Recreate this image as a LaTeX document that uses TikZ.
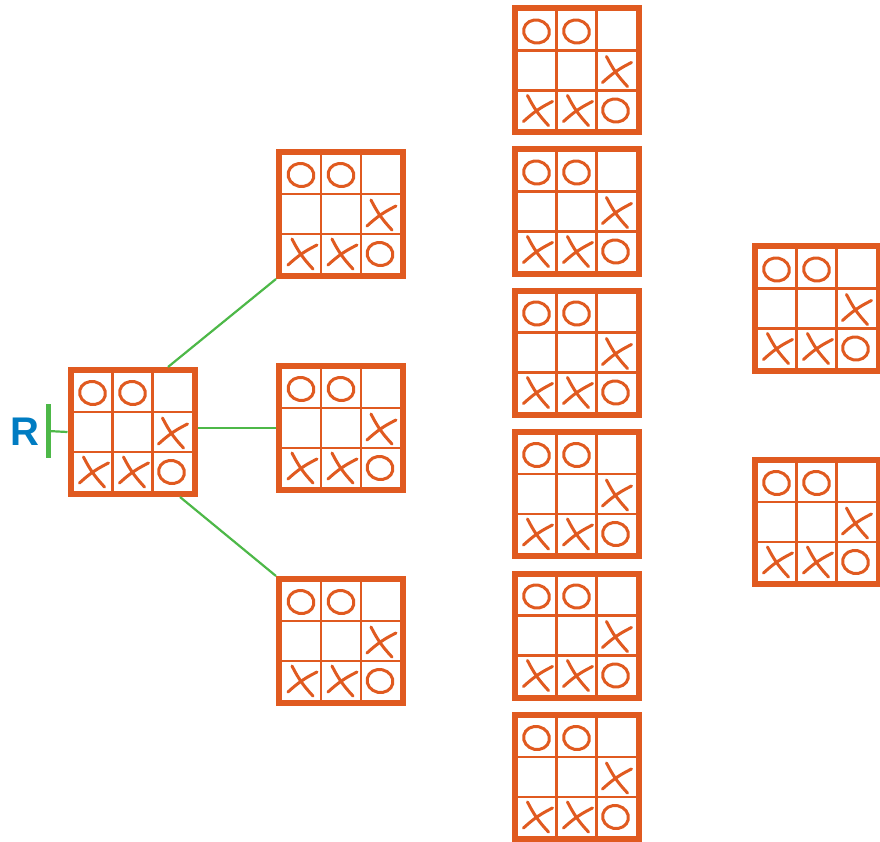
\documentclass[tikz,border=0pt]{standalone}
\usepackage{fontspec}
\setsansfont{Liberation Sans}
\definecolor{tor}{RGB}{224,90,32}
\definecolor{tgreen}{RGB}{77,184,72}
\definecolor{tblue}{RGB}{0,124,194}
\tikzset{
  board/.style={draw=tor, line width=6pt, minimum size=124pt, inner sep=0pt, rectangle},
  gridln/.style={draw=tor, line width=2.8pt},
  markln/.style={draw=tor, line width=3pt, line cap=round},
  treeedge/.style={draw=tgreen, line width=2.2pt},
}
\newcommand\tttO[2]{%
  \draw[markln, rotate around={-12:(#1,#2)}] (#1,#2) ellipse [x radius=13, y radius=11.5];}
\newcommand\tttX[2]{%
  \draw[markln] (#1-9,#2-14) to[bend right=8] (#1+12,#2+16);
  \draw[markln] (#1-13,#2+12) to[bend left=8] (#1+16,#2-8);}
\newcommand\tttboard[3]{%
  \node[board] (#1) at (#2,#3) {};
  \begin{scope}[shift={(#1.center)}]
    \draw[gridln] (-20,-59) -- (-20,59);
    \draw[gridln] (20,-59) -- (20,59);
    \draw[gridln] (-59,-20) -- (59,-20);
    \draw[gridln] (-59,20) -- (59,20);
    \tttO{-40}{-39}
    \tttO{0}{-39}
    \tttO{39}{40}
    \tttX{39}{0}
    \tttX{-40}{39}
    \tttX{0}{39}
  \end{scope}}
\begin{document}
\begin{tikzpicture}[x=1pt,y=-1pt]
\useasboundingbox (0,0) rectangle (880,842);
\tttboard{root}{132.5}{432}
\tttboard{a1}{341}{214}
\tttboard{a2}{341}{428}
\tttboard{a3}{341}{641}
\tttboard{b1}{576.5}{70.5}
\tttboard{b2}{576.5}{211.5}
\tttboard{b3}{576.5}{352.5}
\tttboard{b4}{576.5}{494}
\tttboard{b5}{576.5}{635.5}
\tttboard{b6}{576.5}{777}
\tttboard{c1}{816.5}{308.5}
\tttboard{c2}{816.5}{522}
\draw[treeedge] ([xshift=35.5pt]root.north) -- (a1.south west);
\draw[treeedge] (root.east |- a2.west) -- (a2.west);
\draw[treeedge] ([xshift=47.5pt]root.south) -- (a3.north west);
\coordinate (rtop) at (48,404);
\coordinate (rbot) at (48,458);
\coordinate (rmid) at (48,431);
\draw[treeedge, line width=5pt] (rtop) -- (rbot);
\draw[treeedge] (rmid) -- (root.west);
\node[font=\sffamily\bfseries\fontsize{40}{40}\selectfont, text=tblue, inner sep=0pt] (rlabel) at (25,432) {R};
\end{tikzpicture}
\end{document}
